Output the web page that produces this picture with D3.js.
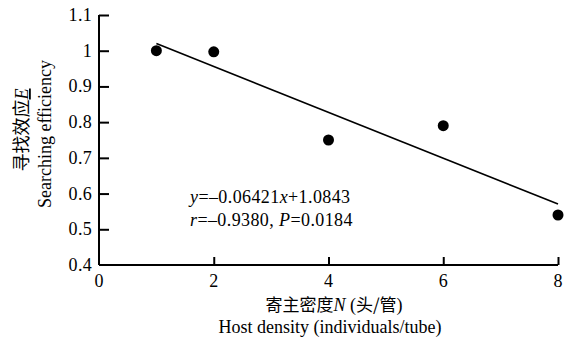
<!DOCTYPE html>
<html>
<head>
<meta charset="utf-8">
<script src="https://cdn.jsdelivr.net/npm/d3@7"></script>
<style>
  body { margin: 0; background: #fff; }
</style>
</head>
<body>
<div id="chart"></div>
<script>
// host density vs searching efficiency
const density = [1, 2, 4, 6, 8];
const efficiency = [1.0, 0.997, 0.75, 0.79, 0.54];
const xTicks = [0, 2, 4, 6, 8];
const yTicks = [0.4, 0.5, 0.6, 0.7, 0.8, 0.9, 1, 1.1];
const slope = -0.06421,
      intercept = 1.0843;

const serif = "'Liberation Serif', 'DejaVu Serif', serif",
      cjk = "'Noto Sans CJK SC', sans-serif";

const width = 572,
      height = 340;
const margin = {top: 15, right: 14, bottom: 75, left: 99};

const svg = d3.select("#chart")
.append("svg")
  .attr("width", width)
  .attr("height", height)
  .attr("font-family", serif);

const x = d3.scaleLinear()
.domain([0, 8])
.range([margin.left, width - margin.right]);
const y = d3.scaleLinear()
.domain([0.4, 1.1])
.range([height - margin.bottom, margin.top]);

// axes, ticks pointing inward
const xAxis = svg.append("g")
  .attr("transform", `translate(0,${y(0.4)})`)
  .call(d3.axisTop(x).tickValues(xTicks.slice(1)).tickSize(8).tickFormat(""));
xAxis.select(".domain").attr("d", `M${x(0)},0H${x(8)}`);

const yAxis = svg.append("g")
  .attr("transform", `translate(${x(0)},0)`)
  .call(d3.axisRight(y).tickValues(yTicks.slice(1)).tickSize(10).tickFormat(""));
yAxis.select(".domain").attr("d", `M0,${y(1.1)}V${y(0.4)}`);

svg.selectAll(".domain, .tick line")
  .attr("stroke", "#000")
  .attr("stroke-width", 2);

// tick labels
svg.selectAll(".ylab")
.data(yTicks)
.enter()
.append("text")
  .attr("x", x(0) - 7)
  .attr("y", d => y(d) + 6)
  .attr("text-anchor", "end")
  .attr("font-size", 18)
  .attr("letter-spacing", 0.3)
  .text(d => d3.format("~g")(d));

svg.selectAll(".xlab")
.data(xTicks)
.enter()
.append("text")
  .attr("x", d => x(d))
  .attr("y", y(0.4) + 22)
  .attr("text-anchor", "middle")
  .attr("font-size", 18)
  .text(d => d);

// regression line
svg.append("line")
  .attr("x1", x(1))
  .attr("y1", y(slope * 1 + intercept))
  .attr("x2", x(8))
  .attr("y2", y(slope * 8 + intercept))
  .attr("stroke", "#000")
  .attr("stroke-width", 1.6);

svg.selectAll("circle")
.data(density)
.enter()
.append("circle")
  .attr("cx", d => x(d))
  .attr("cy", (d, i) => y(efficiency[i]))
  .attr("r", 5.5)
  .attr("fill", "#000");

// equation
const eq = svg.append("text")
  .attr("x", 190)
  .attr("y", 203)
  .attr("font-size", 18)
  .attr("letter-spacing", 0.4);
eq.append("tspan").attr("font-style", "italic").text("y");
eq.append("tspan").text("=\u20130.06421");
eq.append("tspan").attr("font-style", "italic").text("x");
eq.append("tspan").text("+1.0843");

const rr = svg.append("text")
  .attr("x", 190)
  .attr("y", 226)
  .attr("font-size", 18)
  .attr("letter-spacing", 0.4);
rr.append("tspan").attr("font-style", "italic").text("r");
rr.append("tspan").text("=\u20130.9380, ");
rr.append("tspan").attr("font-style", "italic").text("P");
rr.append("tspan").text("=0.0184");

// axis titles
const xt = svg.append("text")
  .attr("x", 334)
  .attr("y", 311)
  .attr("text-anchor", "middle")
  .attr("font-size", 18);
xt.append("tspan").attr("font-family", cjk).attr("font-size", 17).text("寄主密度");
xt.append("tspan").attr("font-style", "italic").text("N");
xt.append("tspan").text(" (");
xt.append("tspan").attr("font-family", cjk).attr("font-size", 17).text("头/管");
xt.append("tspan").text(")");

svg.append("text")
  .attr("x", 330)
  .attr("y", 333)
  .attr("text-anchor", "middle")
  .attr("font-size", 18)
  .text("Host density (individuals/tube)");

const yt = svg.append("text")
  .attr("transform", "translate(28,130) rotate(-90)")
  .attr("text-anchor", "middle")
  .attr("font-size", 18);
yt.append("tspan").attr("font-family", cjk).text("寻找效应");
yt.append("tspan").attr("font-style", "italic").attr("text-decoration", "underline").text("E");

svg.append("text")
  .attr("transform", "translate(51,134) rotate(-90)")
  .attr("text-anchor", "middle")
  .attr("font-size", 18)
  .text("Searching efficiency");
</script>
</body>
</html>
